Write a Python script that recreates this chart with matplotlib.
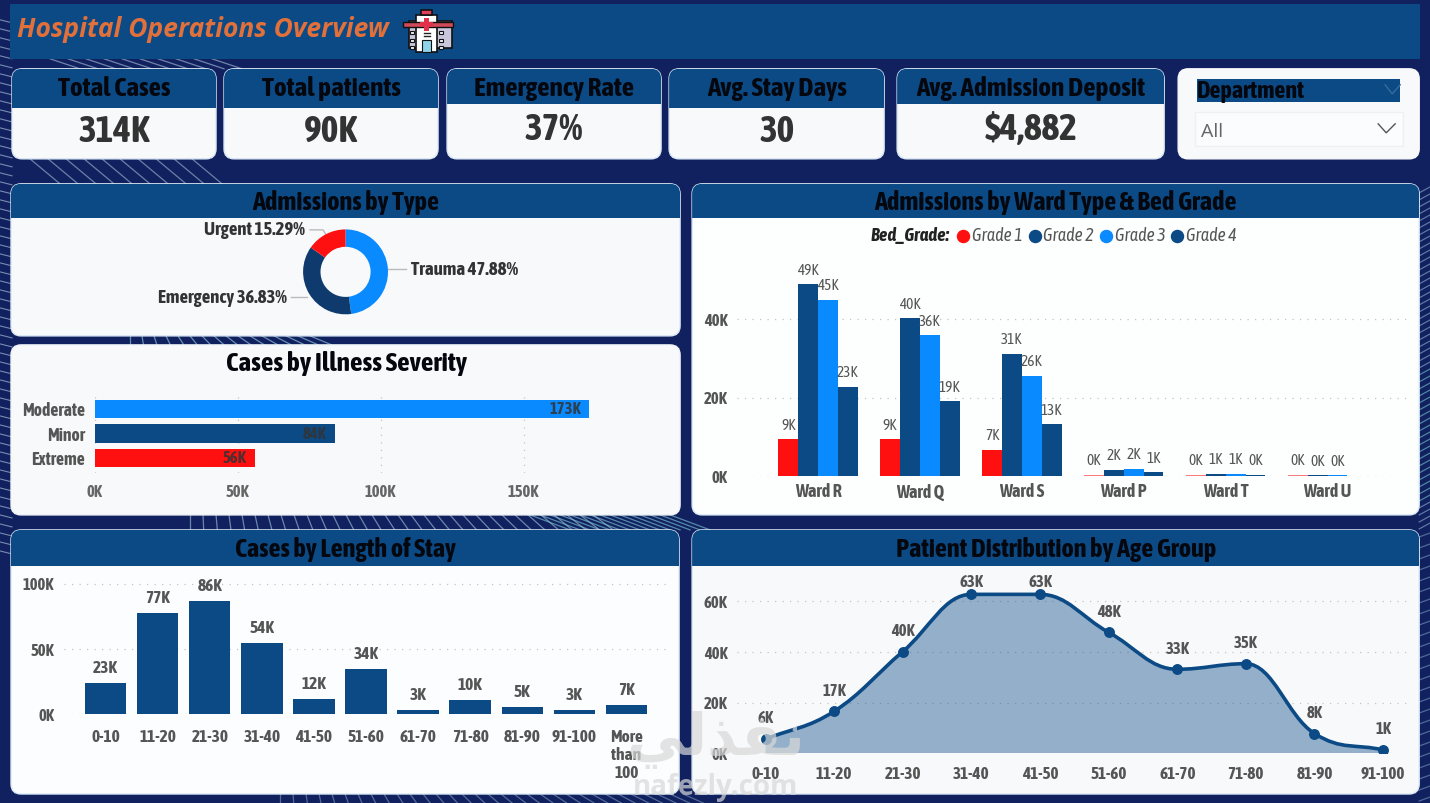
import numpy as np
import matplotlib
matplotlib.use('AGG')
import matplotlib.pyplot as plt
from matplotlib.patches import FancyBboxPatch, Rectangle, PathPatch
from matplotlib.path import Path

W, H = 1430, 803

# data
kpi_titles = ['Total Cases', 'Total patients', 'Emergency Rate', 'Avg. Stay Days', 'Avg. Admission Deposit']
kpi_values = ['314K', '90K', '37%', '30', '$4,882']

adm_types = ['Trauma', 'Emergency', 'Urgent']
adm_share = [47.88, 36.83, 15.29]

severity = ['Extreme', 'Minor', 'Moderate']
severity_cases = [56, 84, 173]

wards = ['Ward R', 'Ward Q', 'Ward S', 'Ward P', 'Ward T', 'Ward U']
grades = ['Grade 1', 'Grade 2', 'Grade 3', 'Grade 4']
grade1 = [9.4, 9.4, 6.8, 0.4, 0.4, 0.4]
grade2 = [48.9, 40.2, 31.1, 1.7, 0.6, 0.2]
grade3 = [44.9, 35.9, 25.6, 1.9, 0.6, 0.2]
grade4 = [22.8, 19.1, 13.2, 1.0, 0.3, None]

stay_bins = ['0-10', '11-20', '21-30', '31-40', '41-50', '51-60', '61-70', '71-80', '81-90', '91-100', 'More\nthan\n100']
stay_cases = [23.4, 77.4, 86.4, 54.4, 11.8, 34.4, 3.0, 10.4, 5.0, 3.0, 6.9]

age_bins = ['0-10', '11-20', '21-30', '31-40', '41-50', '51-60', '61-70', '71-80', '81-90', '91-100']
age_patients = [5.6, 16.6, 40.2, 62.8, 62.8, 47.8, 33.2, 35.4, 7.8, 1.3]

NAVY = '#0b4a85'
BLUE = '#0a8aff'
RED = '#ff1010'
DARK = '#0f3a6e'
PANEL = '#f7f9fb'
GRID = dict(color='#c4c4c4', ls=(0, (1, 5)), lw=0.9, zorder=0)
plt.rcParams['font.family'] = ['Asap Condensed', 'Roboto', 'DejaVu Sans']

# the extra fraction keeps the canvas at 803 rows instead of truncating to 802
fig = plt.figure(figsize=((W + 0.2) / 100, (H + 0.2) / 100), dpi=100, facecolor='#11215f')

# whole page in pixel coords, y going down
bg = fig.add_axes([0, 0, 1, 1])
bg.set_xlim(0, W)
bg.set_ylim(H, 0)
bg.axis('off')


def chart_ax(x0, y0, x1, y1):
    ax = fig.add_axes([x0 / W, 1 - y1 / H, (x1 - x0) / W, (y1 - y0) / H])
    ax.patch.set_alpha(0)
    for s in ax.spines.values():
        s.set_visible(False)
    ax.tick_params(length=0)
    return ax


def panel(x0, y0, x1, y1, head=None, title=None, size=19, edge='#dbe9f6', fill=PANEL, title_y=None):
    body = FancyBboxPatch((x0 + 8, y0 + 8), x1 - x0 - 16, y1 - y0 - 16, boxstyle='round,pad=8,rounding_size=10',
                          fc=fill, ec=edge, lw=1, zorder=3)
    bg.add_patch(body)
    if head:
        r = Rectangle((x0, y0), x1 - x0, head - y0, fc=NAVY, ec='none', zorder=4)
        bg.add_patch(r)
        r.set_clip_path(body)
        ty = title_y if title_y else (y0 + head) / 2 + 1
        bg.text((x0 + x1) / 2, ty, title, ha='center', va='center', fontsize=size, fontweight='bold',
                color='#05070f', zorder=5)


# background streaks, only visible around the cards
for y in range(20, 560, 9):
    bg.plot([0, 12], [y, y + 3], color='#c9e2f5', lw=0.8, alpha=0.55, zorder=1)
for x in range(190, 600, 13):
    lean = (x - 190) * 0.05
    bg.plot([x, x + lean], [515, 530], color='#b5dbe8', lw=0.9, alpha=0.55, zorder=1)
    bg.plot([x + 90, x + 90 + lean], [794, 803], color='#b5dbe8', lw=0.9, alpha=0.4, zorder=1)
for x in range(530, 680, 10):
    bg.plot([x, x + 40], [515, 530], color='#7fd0da', lw=0.9, alpha=0.6, zorder=1)
for x in range(130, 320, 12):
    bg.plot([x, x + (x - 130) * 0.12], [336, 345], color='#9fdbe6', lw=0.9, alpha=0.6, zorder=1)
for x in range(30, 210, 18):
    bg.plot([x, x + 30], [159, 184], color='#bfe3ee', lw=0.9, alpha=0.5, zorder=1)
    bg.plot([x + 20, x + 50], [59, 69], color='#cfe6f5', lw=0.9, alpha=0.5, zorder=1)
for y in range(190, 530, 7):
    c = '#74c8cf' if 370 < y < 500 else '#8fb0d0'
    bg.plot([1419, 1430], [y + 3, y - 3], color=c, lw=0.9, alpha=0.6, zorder=1)
for y in range(535, 800, 11):
    bg.plot([1419, 1430], [y + 2, y - 2], color='#8fb0d0', lw=0.9, alpha=0.5, zorder=1)

# top banner
bg.add_patch(Rectangle((10, 4), 1410, 55, fc=NAVY, ec='none', zorder=3))
bg.text(17, 29, 'Hospital Operations Overview', ha='left', va='center', fontsize=19, fontweight='bold', style='italic',
        family=['Open Sans', 'DejaVu Sans'], color='#e2703a', zorder=5)

# hospital icon
ico = [(409, 21, 43, 27, '#c9c6dc'), (416, 15, 21, 37, '#ffffff'), (421, 10, 11, 5, '#e0405a')]
for ix, iy, iw, ih, c in ico:
    bg.add_patch(Rectangle((ix, iy), iw, ih, fc=c, ec='#111111', lw=1.2, zorder=5))
bg.add_patch(Rectangle((403, 22), 50, 5, fc='#d04a5a', ec='#111111', lw=1, zorder=6))
bg.add_patch(Rectangle((424, 18), 5, 13, fc='#e0304a', ec='none', zorder=6))
bg.add_patch(Rectangle((420, 22), 13, 5, fc='#e0304a', ec='none', zorder=6))
bg.add_patch(Rectangle((422, 40), 9, 12, fc='#8fd3e8', ec='#111111', lw=0.8, zorder=6))
for iy in (31, 39, 46):
    bg.add_patch(Rectangle((410, iy), 4, 3, fc='#e8f4f8', ec='#111111', lw=0.8, zorder=6))
    bg.add_patch(Rectangle((439, iy), 4, 3, fc='#e8f4f8', ec='#111111', lw=0.8, zorder=6))
bg.plot([424, 430], [33, 33], color='#222222', lw=1, zorder=6)
bg.plot([424, 430], [36, 36], color='#222222', lw=1, zorder=6)

# kpi cards
kpi_boxes = [(12, 216, 108), (224, 438, 108), (447, 661, 104), (669, 884, 108), (897, 1164, 104)]
for (x0, x1, head), t, v in zip(kpi_boxes, kpi_titles, kpi_values):
    panel(x0, 69, x1, 159, head, t, size=19.5, title_y=88)
    bg.text((x0 + x1) / 2, (head + 159) / 2 - 1.5, v, ha='center', va='center', fontsize=27, fontweight='bold',
            color='#333333', zorder=5)

# department slicer
panel(1178, 69, 1419, 159, edge='#f7f9fb')
bg.add_patch(Rectangle((1197, 79), 203, 23, fc=NAVY, ec='none', zorder=4))
bg.text(1197, 91, 'Department', ha='left', va='center', fontsize=17.3, fontweight='bold', color='#05070f', zorder=5)
bg.plot([1385, 1392, 1400], [85, 94, 85], color='#3b6a9c', lw=1, zorder=5)
bg.add_patch(Rectangle((1195, 112), 208, 34, fc='#fbfcfd', ec='#eef1f4', lw=1, zorder=4))
bg.text(1201, 132, 'All', ha='left', va='center', fontsize=14, color='#666666', zorder=5,
        family=['Open Sans', 'DejaVu Sans'])
bg.plot([1378, 1386, 1395], [124, 133, 124], color='#555555', lw=1, zorder=5)

# main cards
panel(11, 184, 680, 336, 218, 'Admissions by Type')
panel(11, 345, 680, 515, edge='#f0f3f6')
panel(692, 184, 1419, 515, 218, 'Admissions by Ward Type & Bed Grade', fill='#fdfefe')
panel(11, 530, 679, 794, 566, 'Cases by Length of Stay', fill='#fcfdfe')
panel(692, 530, 1419, 794, 566, 'Patient Distribution by Age Group')
bg.text(346, 363, 'Cases by Illness Severity', ha='center', va='center', fontsize=19.7, fontweight='bold', color='#05070f', zorder=5)

# donut
ax = chart_ax(300.5, 227, 390.5, 317)
ax.pie(adm_share, colors=[BLUE, DARK, RED], startangle=90, counterclock=False,
       wedgeprops=dict(width=0.41, edgecolor='none'))
ax.set_xlim(-1.06, 1.06)
ax.set_ylim(-1.06, 1.06)

label_spots = [(411, 270, 'left'), (287, 298, 'right'), (305, 230, 'right')]
for name, share, (lx, ly, ha) in zip(adm_types, adm_share, label_spots):
    bg.text(lx, ly, f'{name} {share:.2f}%', ha=ha, va='center', fontsize=13.5, fontweight='bold', color='#333333', zorder=5)
bg.plot([388, 406], [269, 269], color='#bbbbbb', lw=1, zorder=4)
bg.plot([291, 307], [297, 297], color='#bbbbbb', lw=1, zorder=4)
bg.plot([310, 323, 326], [230, 230, 235], color='#bbbbbb', lw=1, zorder=4)

# severity bars
ax = chart_ax(94.6, 393, 666, 473)
ax.barh(severity, severity_cases, height=0.76, color=[RED, NAVY, BLUE], zorder=2)
ax.set_xlim(0, (666 - 94.6) / 2.86)
ax.set_ylim(-0.615, 2.665)
ax.set_xticks([0, 50, 100, 150])
ax.set_xticklabels(['0K', '50K', '100K', '150K'], fontsize=12, fontweight='bold', color='#666666')
ax.grid(axis='x', **GRID)
ax.tick_params(axis='x', pad=8)
ax.tick_params(axis='y', pad=7, labelsize=12.7, labelcolor='#555555')
for lab in ax.get_yticklabels():
    lab.set_fontweight('bold')
for i, v in enumerate(severity_cases):
    ax.annotate(f'{v}K', (v, i), xytext=(-6, 0), textcoords='offset points', ha='right', va='center',
                fontsize=12, fontweight='bold', color='#333333', alpha=0.85, zorder=4)

# ward bars
ax = chart_ax(737, 240, 1410, 476.3)
series = [grade1, grade2, grade3, grade4]
colors = [RED, NAVY, BLUE, NAVY]
bw = 0.1945
xs = np.arange(len(wards))
for j, (vals, c) in enumerate(zip(series, colors)):
    for i, v in enumerate(vals):
        if v is None:
            continue
        xp = xs[i] + (j - 1.5) * bw
        ax.bar(xp, v, width=bw, color=c, zorder=2, alpha=0.55 if (v < 1 and j == 0) else 1)
        ax.annotate(f'{v:.0f}K', (xp, v), xytext=(0, 10), textcoords='offset points', ha='center', va='center',
                    fontsize=11, color='#555555', zorder=4)
ax.set_xlim(-0.794, 5.81)
ax.set_ylim(0, (476.3 - 240) / 3.925)
ax.set_xticks(xs)
ax.set_xticklabels(wards, fontsize=13, fontweight='bold', color='#555555')
ax.set_yticks([0, 20, 40])
ax.set_yticklabels(['0K', '20K', '40K'], fontsize=12, fontweight='bold', color='#555555')
ax.grid(axis='y', **GRID)
ax.tick_params(axis='x', pad=5)
ax.tick_params(axis='y', pad=7)

# legend for the ward chart
bg.text(949, 236, 'Bed_Grade:', ha='right', va='center', fontsize=13.4, fontweight='bold', style='italic', color='#222222', zorder=5)
leg_x = [963, 1034.5, 1106, 1177]
for lx, g, c in zip(leg_x, grades, colors):
    bg.scatter([lx], [236], s=75, color=c, zorder=5)
    bg.text(lx + 8.5, 236, g, ha='left', va='center', fontsize=13, style='italic', color='#555555', zorder=5)

# length of stay
ax = chart_ax(63.8, 570, 668, 714)
xs = np.arange(len(stay_bins))
ax.bar(xs, stay_cases, width=0.795, color=NAVY, zorder=2)
ax.set_xlim((63.8 - 105.6) / 52.07, (668 - 105.6) / 52.07)
ax.set_ylim(0, (714 - 570) / 1.303)
ax.set_xticks(xs)
ax.set_xticklabels(stay_bins, fontsize=12.5, fontweight='bold', color='#555555', linespacing=1.15, va='top')
ax.set_yticks([0, 50, 100])
ax.set_yticklabels(['0K', '50K', '100K'], fontsize=12, fontweight='bold', color='#555555')
ax.grid(axis='y', **GRID)
ax.tick_params(axis='x', pad=11)
ax.tick_params(axis='y', pad=7)
for x, v in zip(xs, stay_cases):
    ax.annotate(f'{v:.0f}K', (x, v), xytext=(0, 11), textcoords='offset points', ha='center', va='center',
                fontsize=12.5, fontweight='bold', color='#555555', zorder=4)

# age group area, curve runs through the points with flat tangents at local peaks
ax = chart_ax(737, 570, 1410, 753.3)
xs = np.arange(len(age_bins))
ys = np.array(age_patients)
slopes = np.gradient(ys)
for i in range(1, len(ys) - 1):
    if (ys[i] - ys[i - 1]) * (ys[i + 1] - ys[i]) <= 0:
        slopes[i] = 0
verts = [(xs[0], ys[0])]
codes = [Path.MOVETO]
for i in range(len(ys) - 1):
    verts += [(xs[i] + 0.4, ys[i] + 0.4 * slopes[i]), (xs[i + 1] - 0.4, ys[i + 1] - 0.4 * slopes[i + 1]), (xs[i + 1], ys[i + 1])]
    codes += [Path.CURVE4] * 3
area = Path(verts + [(xs[-1], 0), (xs[0], 0), (xs[0], ys[0])], codes + [Path.LINETO] * 3)
ax.add_patch(PathPatch(area, fc=NAVY, ec='none', alpha=0.42, zorder=2))
ax.add_patch(PathPatch(Path(verts, codes), fc='none', ec=NAVY, lw=2.6, zorder=3))
ax.scatter(xs, ys, s=47, color=NAVY, zorder=4)
ax.set_xlim(-0.415, 9.395)
ax.set_ylim(0, (753.3 - 570) / 2.53)
ax.set_xticks(xs)
ax.set_xticklabels(age_bins, fontsize=12.4, fontweight='bold', color='#555555')
ax.set_yticks([0, 20, 40, 60])
ax.set_yticklabels(['0K', '20K', '40K', '60K'], fontsize=12, fontweight='bold', color='#555555')
ax.grid(axis='y', **GRID)
ax.tick_params(axis='x', pad=9)
ax.tick_params(axis='y', pad=7)
for x, v in zip(xs, ys):
    off = 9 if v > 60 else 15
    ax.annotate(f'{v:.0f}K', (x, v), xytext=(0, off), textcoords='offset points', ha='center', va='center',
                fontsize=12, fontweight='bold', color='#555555', zorder=5)

# watermark on top of everything
top = fig.add_axes([0, 0, 1, 1], zorder=20)
top.set_xlim(0, W)
top.set_ylim(H, 0)
top.axis('off')
top.text(716, 740, '\ufef2\ufedf\ufeac\ufed4\ufee7', ha='center', va='center', fontsize=42, fontweight='bold',
         family='DejaVu Sans', color='#d8d8d8', alpha=0.7)
top.text(715, 787, 'nafezly.com', ha='center', va='center', fontsize=20, fontweight='bold',
         family=['Open Sans', 'DejaVu Sans'], color='#d8d8d8', alpha=0.7)

fig.savefig('out.png', dpi=100, facecolor=fig.get_facecolor())
